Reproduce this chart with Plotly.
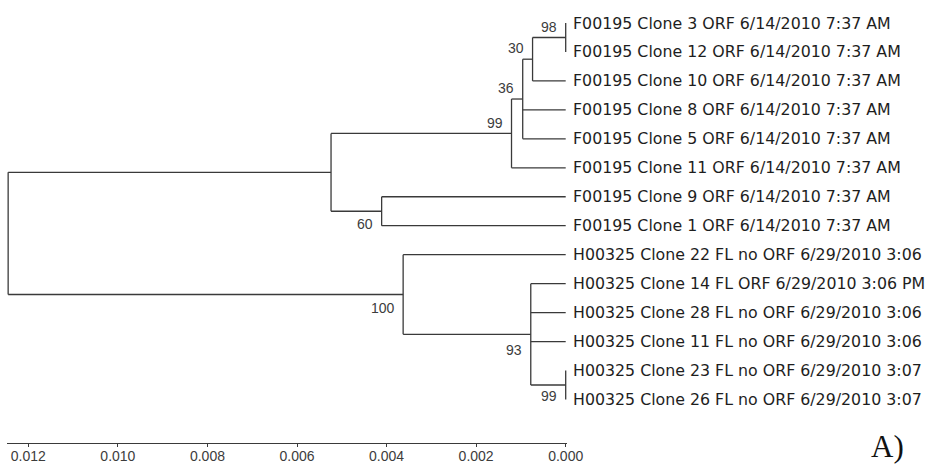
import plotly.graph_objects as go

# ---- tree data -------------------------------------------------------------
leaf_labels = [
    "F00195 Clone 3 ORF 6/14/2010 7:37 AM",
    "F00195 Clone 12 ORF 6/14/2010 7:37 AM",
    "F00195 Clone 10 ORF 6/14/2010 7:37 AM",
    "F00195 Clone 8 ORF 6/14/2010 7:37 AM",
    "F00195 Clone 5 ORF 6/14/2010 7:37 AM",
    "F00195 Clone 11 ORF 6/14/2010 7:37 AM",
    "F00195 Clone 9 ORF 6/14/2010 7:37 AM",
    "F00195 Clone 1 ORF 6/14/2010 7:37 AM",
    "H00325 Clone 22 FL no ORF 6/29/2010 3:06",
    "H00325 Clone 14 FL ORF 6/29/2010 3:06 PM",
    "H00325 Clone 28 FL no ORF 6/29/2010 3:06",
    "H00325 Clone 11 FL no ORF 6/29/2010 3:06",
    "H00325 Clone 23 FL no ORF 6/29/2010 3:07",
    "H00325 Clone 26 FL no ORF 6/29/2010 3:07",
]

# internal nodes (children listed as "L<i>" for leaves or a node id)
node_ids = ["a98", "a30", "a36", "a99", "a60", "grpF", "b99", "b93", "b100", "root"]
node_children = [
    ["L0", "L1"],
    ["a98", "L2"],
    ["a30", "L3", "L4"],
    ["a36", "L5"],
    ["L6", "L7"],
    ["a99", "a60"],
    ["L12", "L13"],
    ["L9", "L10", "L11", "b99"],
    ["L8", "b93"],
    ["grpF", "b100"],
]
node_heights = [0.0, 0.00074, 0.00096, 0.00121, 0.00411, 0.00524, 0.0, 0.00078, 0.00363, 0.01245]
node_support = [98, 30, 36, 99, 60, None, 99, 93, 100, None]

tick_vals = [0.012, 0.010, 0.008, 0.006, 0.004, 0.002, 0.000]
tick_text = ["0.012", "0.010", "0.008", "0.006", "0.004", "0.002", "0.000"]

# ---- styling ---------------------------------------------------------------
W, H = 933, 468
PLOT_L, PLOT_R, PLOT_T, PLOT_B = 7, 567, 8, 443
PX_PER_UNIT = 44783.0
ZERO_PX = 565.7
ROW0_PX, ROW_STEP = 23.0, 28.96
LINE_COLOR = "#3a3a3a"
LINE_W = 1.3
# label offsets (pixels) for support values relative to their node
support_dx = [-7, -7, -7, -7, -7, 0, -7, -7, -6, 0]
support_dy = [-10.5, -11, -11, -10.5, 13, 0, 11, 16, 13.5, 0]

x_range = [(ZERO_PX - PLOT_L) / PX_PER_UNIT, (ZERO_PX - PLOT_R) / PX_PER_UNIT]
y_range = [(PLOT_B - ROW0_PX) / ROW_STEP, (PLOT_T - ROW0_PX) / ROW_STEP]

# ---- layout of the tree ----------------------------------------------------
pos = {}
for i in range(len(leaf_labels)):
    pos["L%d" % i] = (0.0, float(i))

idx = {n: k for k, n in enumerate(node_ids)}


def place(nid):
    k = idx[nid]
    ys = []
    for c in node_children[k]:
        if c not in pos:
            place(c)
        ys.append(pos[c][1])
    pos[nid] = (node_heights[k], (min(ys) + max(ys)) / 2.0)


place("root")

xs, ys = [], []
for k, nid in enumerate(node_ids):
    nx, ny = pos[nid]
    cys = [pos[c][1] for c in node_children[k]]
    xs += [nx, nx, None]
    ys += [min(cys), max(cys), None]
    for c in node_children[k]:
        cx, cy = pos[c]
        xs += [nx, cx, None]
        ys += [cy, cy, None]

fig = go.Figure()
fig.add_trace(go.Scatter(
    x=xs, y=ys, mode="lines",
    line=dict(color=LINE_COLOR, width=LINE_W),
    hoverinfo="skip", showlegend=False,
))

annotations = []
for i, name in enumerate(leaf_labels):
    annotations.append(dict(
        x=0.0, y=i, xref="x", yref="y", text=name, showarrow=False,
        xanchor="left", yanchor="middle", xshift=5.5,
        font=dict(family="DejaVu Sans", size=15.8, color="#1e1e1e"),
    ))

for k, nid in enumerate(node_ids):
    if node_support[k] is None:
        continue
    nx, ny = pos[nid]
    annotations.append(dict(
        x=nx, y=ny, xref="x", yref="y", text=str(node_support[k]),
        showarrow=False, xanchor="right", yanchor="middle",
        xshift=support_dx[k], yshift=-support_dy[k],
        font=dict(family="Liberation Sans", size=14, color="#3c3c3c"),
    ))

annotations.append(dict(
    x=(887 - PLOT_L) / (PLOT_R - PLOT_L), y=(PLOT_B - 446) / (PLOT_B - PLOT_T),
    xref="paper", yref="paper", text="A)", showarrow=False,
    xanchor="center", yanchor="middle",
    font=dict(family="Liberation Serif", size=31, color="#111111"),
))

axis_common = dict(range=x_range, showgrid=False, zeroline=False, automargin=False,
                   tickvals=tick_vals, tickcolor=LINE_COLOR, tickwidth=LINE_W)

fig.update_layout(
    width=W, height=H,
    margin=dict(l=PLOT_L, r=W - PLOT_R, t=PLOT_T, b=H - PLOT_B),
    paper_bgcolor="white", plot_bgcolor="white",
    xaxis=dict(**axis_common, ticktext=tick_text, ticks="outside", ticklen=3,
               showline=True, linecolor=LINE_COLOR, linewidth=LINE_W,
               ticklabelstandoff=-3,
               tickfont=dict(family="Liberation Sans", size=14, color="#3c3c3c")),
    xaxis2=dict(**axis_common, overlaying="x", anchor="y", side="bottom",
                ticks="inside", ticklen=5, showticklabels=False, showline=False),
    yaxis=dict(range=y_range, visible=False, showgrid=False, zeroline=False,
               automargin=False),
    annotations=annotations,
)

fig.write_html("out.html")
